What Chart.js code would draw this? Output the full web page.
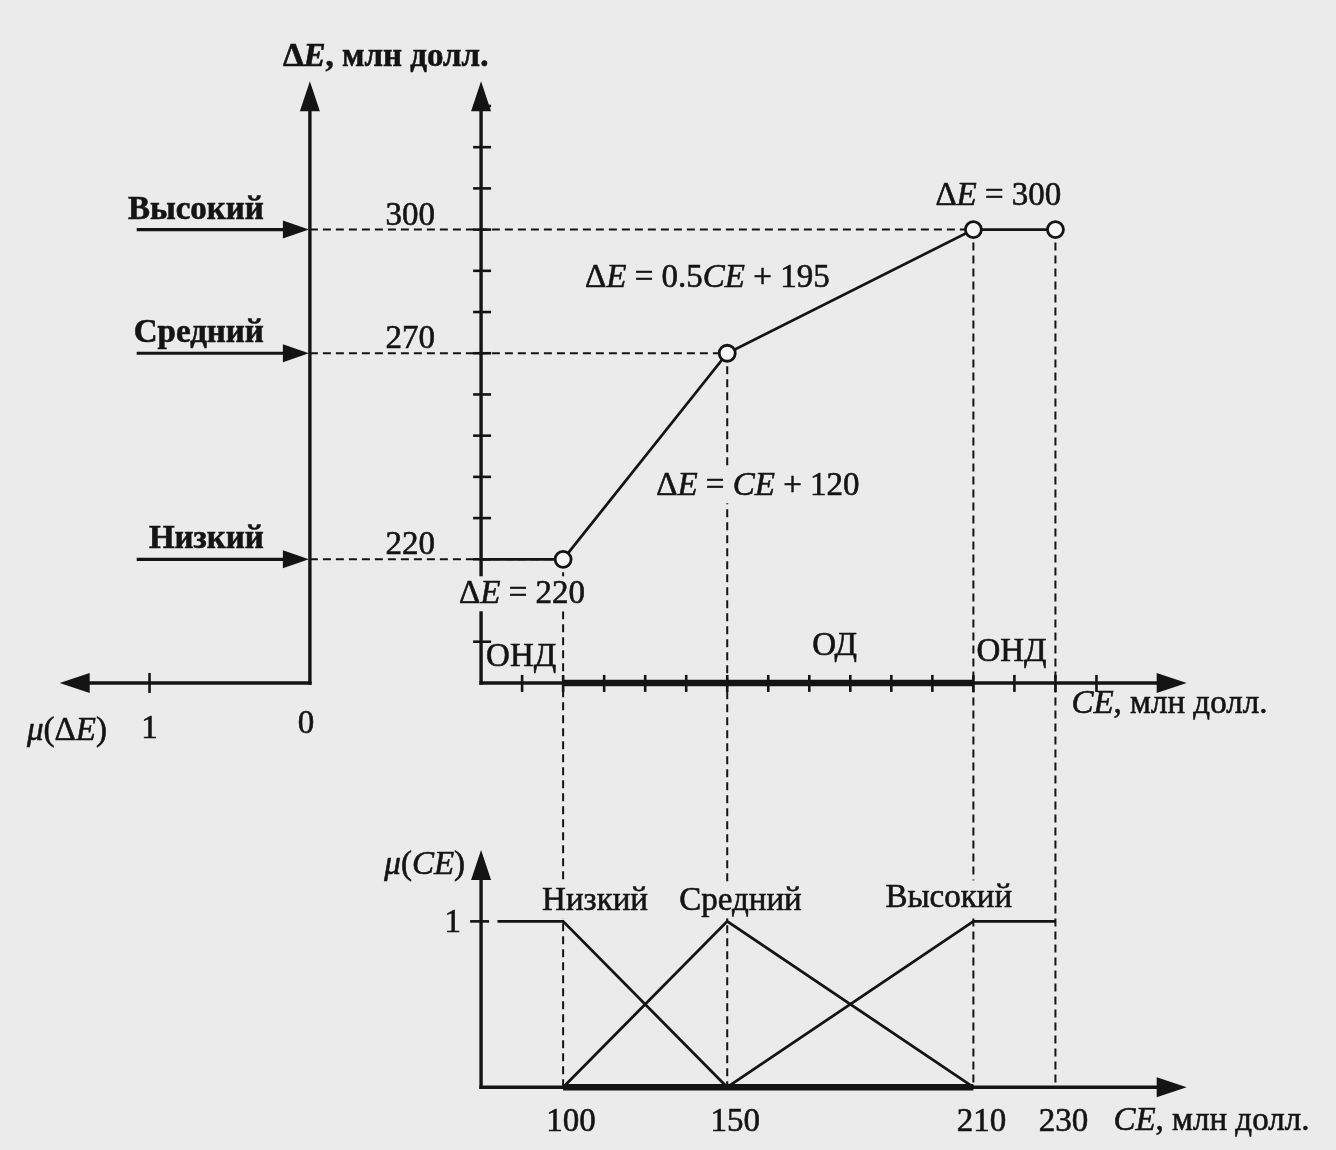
<!DOCTYPE html>
<html lang="ru">
<head>
<meta charset="utf-8">
<title>ΔE(CE)</title>
<script src="https://cdn.jsdelivr.net/npm/chart.js@4"></script>
<style>
  html, body { margin: 0; padding: 0; background: #ebebeb; }
  #wrap { width: 1336px; height: 1150px; }
</style>
</head>
<body>
<div id="wrap"><canvas id="chart" width="1336" height="1150"></canvas></div>
<script>
// Tick values along the CE axis (schematic: 100..150 split into four steps, elsewhere steps of 10)
const ceTicks = [80, 90, 100, 112.5, 125, 137.5, 150, 160, 170, 180, 190, 200, 210, 220, 230, 240];
const deTicks = [200, 210, 220, 230, 240, 250, 260, 270, 280, 290, 300, 310, 320, 330];

// ΔE as a piecewise function of CE
const ceBreaks = [80, 100, 150, 210, 230];
const deBreaks = [220, 220, 270, 300, 300];

// membership functions μ(CE)
const ceLow = [84, 100, 150];
const muLow = [1, 1, 0];
const ceMid = [100, 150, 210];
const muMid = [0, 1, 0];
const ceHigh = [150, 210, 230];
const muHigh = [0, 1, 1];

// ΔE levels and the CE at which each one is reached
const levelNames = ['Высокий', 'Средний', 'Низкий'];
const levelDE = [300, 270, 220];
const levelCE = [210, 150, 100];

// admissible region ОД
const odRange = [100, 210];

// axis extents
const deBase = 190, deEnd = 336;
const ceEnd = 262;
const muEnd = 1.43;
const mdEnd = 1.56;

// page layout of the scales (pixels)
const W = 1336, H = 1150;
const ceOriginPx = 478, ceStepPx = 41.7;
const deBasePx = 685, dePx = 4.2;
const muBasePx = 1097, muPx = 169;
const mdBasePx = 304, mdPx = 163;

const ink = '#141414';
const paper = '#ebebeb';
const serif = '"Liberation Serif", "Times New Roman", serif';
const F = {
  r: `33px ${serif}`,
  i: `italic 33px ${serif}`,
  b: `bold 33px ${serif}`,
  bi: `italic bold 33px ${serif}`
};

function ceToStep(v) {
  const t = ceTicks, n = t.length - 1;
  if (v <= t[0]) return (v - t[0]) / (t[1] - t[0]);
  if (v >= t[n]) return n + (v - t[n]) / (t[n] - t[n - 1]);
  let i = 0;
  while (v > t[i + 1]) i++;
  return i + (v - t[i]) / (t[i + 1] - t[i]);
}

function stepToCe(s) {
  const t = ceTicks, n = t.length - 1;
  if (s <= 0) return t[0] + s * (t[1] - t[0]);
  if (s >= n) return t[n] + (s - n) * (t[n] - t[n - 1]);
  const i = Math.floor(s);
  return t[i] + (s - i) * (t[i + 1] - t[i]);
}

// linear scale whose unit is one tick step of ceTicks
class StepScale extends Chart.LinearScale {
  static id = 'steps';
  static defaults = {};
  getPixelForValue(v) {
    const a = ceToStep(this.min), b = ceToStep(this.max);
    return this.getPixelForDecimal((ceToStep(v) - a) / (b - a));
  }
  getValueForPixel(p) {
    const a = ceToStep(this.min), b = ceToStep(this.max);
    return stepToCe(a + this.getDecimalForPixel(p) * (b - a));
  }
}
Chart.register(StepScale);

const pts = (xs, ys) => xs.map((x, i) => ({ x, y: ys[i] }));

function arrowLine(ctx, x1, y1, x2, y2, w, len, half) {
  const a = Math.atan2(y2 - y1, x2 - x1);
  const c = Math.cos(a), s = Math.sin(a);
  ctx.lineWidth = w;
  ctx.beginPath();
  ctx.moveTo(x1, y1);
  ctx.lineTo(x2 - c * len * 0.7, y2 - s * len * 0.7);
  ctx.stroke();
  ctx.beginPath();
  ctx.moveTo(x2, y2);
  ctx.lineTo(x2 - c * len - s * half, y2 - s * len + c * half);
  ctx.lineTo(x2 - c * len + s * half, y2 - s * len - c * half);
  ctx.closePath();
  ctx.fill();
}

function seg(ctx, x1, y1, x2, y2) {
  ctx.beginPath();
  ctx.moveTo(x1, y1);
  ctx.lineTo(x2, y2);
  ctx.stroke();
}

function rich(ctx, parts, x, y, align, knock) {
  let w = 0;
  parts.forEach(([t, f]) => { ctx.font = F[f]; w += ctx.measureText(t).width; });
  let cx = align === 'center' ? x - w / 2 : align === 'right' ? x - w : x;
  if (knock) {
    ctx.fillStyle = paper;
    ctx.fillRect(cx - 4, y - 27, w + 8, 35);
    ctx.fillStyle = ink;
  }
  parts.forEach(([t, f]) => {
    ctx.font = F[f];
    ctx.fillText(t, cx, y);
    ctx.strokeText(t, cx, y);
    cx += ctx.measureText(t).width;
  });
}

const axesPlugin = {
  id: 'axes',
  beforeDatasetsDraw(chart) {
    const { ctx } = chart;
    const { x, y, mu, md } = chart.scales;
    ctx.save();
    ctx.strokeStyle = ink;
    ctx.fillStyle = ink;

    // dashed guide lines
    ctx.setLineDash([8, 5]);
    ctx.lineWidth = 2;
    levelDE.forEach((de, i) => {
      const py = y.getPixelForValue(de);
      seg(ctx, md.getPixelForValue(0), py, x.getPixelForValue(levelCE[i]), py);
    });
    ceBreaks.slice(1).forEach((ce, i) => {
      const px = x.getPixelForValue(ce);
      seg(ctx, px, y.getPixelForValue(deBreaks[i + 1]), px, mu.getPixelForValue(0));
    });
    ctx.setLineDash([]);

    // ΔE(CE) axes
    const x0 = x.getPixelForValue(ceTicks[0]);
    const y0 = y.getPixelForValue(deBase);
    arrowLine(ctx, x0 - 1.7, y0, x.getPixelForValue(ceEnd), y0, 3.4, 30, 10);
    arrowLine(ctx, x0, y0 + 1.7, x0, y.getPixelForValue(deEnd), 3.4, 30, 10);
    ctx.lineWidth = 2.6;
    ceTicks.slice(1).forEach(v => {
      const px = x.getPixelForValue(v);
      seg(ctx, px, y0 - 8, px, y0 + 9);
    });
    deTicks.forEach(v => {
      const py = y.getPixelForValue(v);
      seg(ctx, x0 - 8, py, x0 + 10, py);
    });

    // μ(ΔE) axes
    const m0 = md.getPixelForValue(0);
    arrowLine(ctx, m0 + 1.7, y0, md.getPixelForValue(mdEnd), y0, 3.4, 30, 10);
    arrowLine(ctx, m0, y0 + 1.7, m0, y.getPixelForValue(deEnd), 3.4, 30, 10);
    ctx.lineWidth = 2.6;
    const m1 = md.getPixelForValue(1);
    seg(ctx, m1, y0 - 10, m1, y0 + 10);
    levelDE.forEach(de => {
      const py = y.getPixelForValue(de);
      arrowLine(ctx, md.getPixelForValue(1.08), py, m0 - 1, py, 3.2, 26, 9);
    });

    // μ(CE) axes
    const b0 = mu.getPixelForValue(0);
    arrowLine(ctx, x0 - 1.7, b0, x.getPixelForValue(ceEnd), b0, 3.4, 30, 10);
    arrowLine(ctx, x0, b0 + 1.7, x0, mu.getPixelForValue(muEnd), 3.4, 30, 10);
    ctx.lineWidth = 2.6;
    const b1 = mu.getPixelForValue(1);
    seg(ctx, x0 - 11, b1, x0 + 8, b1);
    ctx.restore();
  }
};

const textPlugin = {
  id: 'texts',
  afterDatasetsDraw(chart) {
    const { ctx } = chart;
    const { x, y, mu, md } = chart.scales;
    const x0 = x.getPixelForValue(ceTicks[0]);
    const y0 = y.getPixelForValue(deBase);
    const m0 = md.getPixelForValue(0);
    const b0 = mu.getPixelForValue(0);
    const b1 = mu.getPixelForValue(1);
    ctx.save();
    ctx.fillStyle = ink;
    ctx.strokeStyle = ink;
    ctx.lineWidth = 0.6;
    ctx.textBaseline = 'alphabetic';

    rich(ctx, [['Δ', 'b'], ['E', 'bi'], [', млн долл.', 'b']], m0 - 27, y.getPixelForValue(deEnd) - 15, 'left');

    levelDE.forEach(v => {
      rich(ctx, [[String(v), 'r']], x0 - 46, y.getPixelForValue(v) - 5, 'right');
    });
    rich(ctx, [['Δ', 'r'], ['E', 'i'], [' = 220', 'r']], (x0 + x.getPixelForValue(100)) / 2, y.getPixelForValue(220) + 44, 'center', true);
    rich(ctx, [['Δ', 'r'], ['E', 'i'], [' = 0.5', 'r'], ['CE', 'i'], [' + 195', 'r']], x.getPixelForValue(100) + 22, y.getPixelForValue(300) + 57, 'left');
    rich(ctx, [['Δ', 'r'], ['E', 'i'], [' = ', 'r'], ['CE', 'i'], [' + 120', 'r']], x.getPixelForValue(150) - 71, y.getPixelForValue(220) - 64, 'left', true);
    rich(ctx, [['Δ', 'r'], ['E', 'i'], [' = 300', 'r']], x.getPixelForValue(210) - 38, y.getPixelForValue(300) - 25, 'left');

    rich(ctx, [['ОНД', 'r']], x0 + 5, y0 - 17, 'left');
    rich(ctx, [['ОД', 'r']], x.getPixelForValue(180) - 38, y0 - 28, 'left');
    rich(ctx, [['ОНД', 'r']], x.getPixelForValue(210) + 3, y0 - 22, 'left');
    rich(ctx, [['CE', 'i'], [', млн долл.', 'r']], x.getPixelForValue(230) + 16, y0 + 30, 'left');

    levelNames.forEach((name, i) => {
      rich(ctx, [[name, 'b']], m0 - 46, y.getPixelForValue(levelDE[i]) - 11, 'right');
    });
    rich(ctx, [['μ', 'i'], ['(Δ', 'r'], ['E', 'i'], [')', 'r']], 27, y0 + 57, 'left');
    rich(ctx, [['1', 'r']], md.getPixelForValue(1), y0 + 55, 'center');
    rich(ctx, [['0', 'r']], m0 - 4, y0 + 50, 'center');

    rich(ctx, [['μ', 'i'], ['(', 'r'], ['CE', 'i'], [')', 'r']], x0 - 16, mu.getPixelForValue(muEnd) + 24, 'right');
    rich(ctx, [['1', 'r']], x0 - 20, b1 + 11, 'right');
    rich(ctx, [['Низкий', 'r']], x.getPixelForValue(100) - 21, b1 - 11, 'left', true);
    rich(ctx, [['Средний', 'r']], x.getPixelForValue(150) - 48, b1 - 11, 'left', true);
    rich(ctx, [['Высокий', 'r']], x.getPixelForValue(210) - 88, b1 - 14, 'left', true);
    levelCE.concat([230]).forEach(v => {
      rich(ctx, [[String(v), 'r']], x.getPixelForValue(v) + 8, b0 + 44, 'center');
    });
    rich(ctx, [['CE', 'i'], [', млн долл.', 'r']], x.getPixelForValue(230) + 58, b0 + 43, 'left');
    ctx.restore();
  }
};

const line = { showLine: true, borderColor: ink, borderWidth: 2.8, pointRadius: 0, clip: false };

new Chart(document.getElementById('chart'), {
  type: 'scatter',
  data: {
    datasets: [
      {
        ...line,
        data: pts(ceBreaks, deBreaks),
        yAxisID: 'y',
        pointRadius: c => (c.dataIndex === 0 ? 0 : 8),
        pointBorderWidth: 2.8,
        pointBorderColor: ink,
        pointBackgroundColor: '#f6f6f6'
      },
      { ...line, data: pts(ceLow, muLow), yAxisID: 'mu' },
      { ...line, data: pts(ceMid, muMid), yAxisID: 'mu' },
      { ...line, data: pts(ceHigh, muHigh), yAxisID: 'mu' },
      { ...line, data: pts(odRange, [deBase, deBase]), yAxisID: 'y', borderWidth: 6.5 },
      { ...line, data: pts(odRange, [0, 0]), yAxisID: 'mu', borderWidth: 6.5 }
    ]
  },
  options: {
    responsive: false,
    animation: false,
    devicePixelRatio: 1,
    layout: { padding: 0 },
    plugins: { legend: { display: false }, tooltip: { enabled: false } },
    events: [],
    scales: {
      x: {
        type: 'steps', display: false,
        min: stepToCe(-ceOriginPx / ceStepPx),
        max: stepToCe((W - ceOriginPx) / ceStepPx)
      },
      y: {
        type: 'linear', display: false,
        min: deBase - (H - deBasePx) / dePx,
        max: deBase + deBasePx / dePx
      },
      mu: {
        type: 'linear', axis: 'y', display: false,
        min: -(H - muBasePx) / muPx,
        max: muBasePx / muPx
      },
      md: {
        type: 'linear', axis: 'x', display: false, reverse: true,
        min: mdBasePx / mdPx - W / mdPx,
        max: mdBasePx / mdPx
      }
    }
  },
  plugins: [axesPlugin, textPlugin]
});
</script>
</body>
</html>
